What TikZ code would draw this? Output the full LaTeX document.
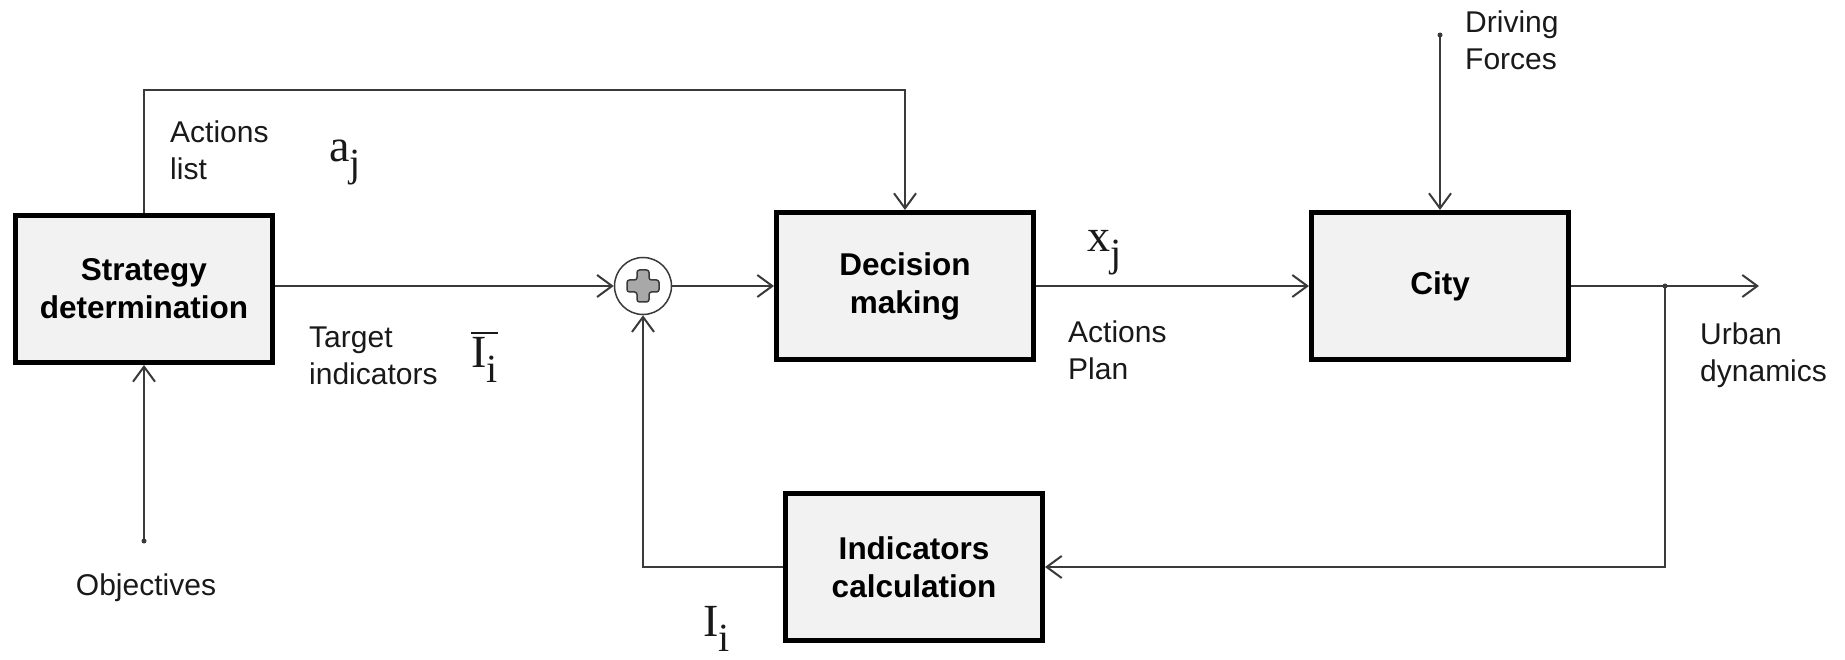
\documentclass[tikz,border=0pt]{standalone}
\usepackage{fontspec}
\setmainfont{Liberation Sans}
\newfontfamily\symserif{Liberation Serif}
\usetikzlibrary{arrows.meta}
\definecolor{boxfill}{HTML}{F2F2F2}
\definecolor{wire}{HTML}{3A3A3A}
\definecolor{crossfill}{HTML}{A8A8A8}

% variable with a lowered subscript, set in a serif face
\newcommand{\varsym}[2]{{\symserif\fontsize{46}{46}\selectfont #1\raisebox{-15pt}{\fontsize{40}{40}\selectfont #2}}}

\begin{document}
\begin{tikzpicture}[x=1pt,y=-1pt,
  block/.style={draw=black, line width=5pt, fill=boxfill, minimum width=257pt, minimum height=147pt,
    align=center, font=\fontsize{31.5}{38}\selectfont\bfseries, inner sep=0pt},
  wireline/.style={draw=wire, line width=2pt},
  flow/.style={wireline, -{Straight Barb[length=15pt,width=22pt]}},
  lbl/.style={anchor=west, align=left, inner sep=0pt, font=\fontsize{30}{37}\selectfont, text=black!90},
  sym/.style={anchor=base west, inner sep=0pt, text=black!90},
  joint/.style={circle, fill=wire, inner sep=0pt, minimum size=5pt},
]
\path[use as bounding box] (0,0) rectangle (1845,660);

% blocks
\node[block] (strat) at (144,289) {Strategy\\determination};
\node[block] (dec)   at (905,286) {Decision\\making};
\node[block] (city)  at (1440,286) {City};
\node[block] (ind)   at (914,567) {Indicators\\calculation};

% summing junction
\node[circle, draw=wire, line width=1.5pt, fill=white, minimum size=57pt, inner sep=0pt] (sum) at (643,286) {};
\draw[wire, line width=1.5pt, fill=crossfill, rounded corners=2.5pt, shift={(sum.center)}]
  (-6,-16) -- (6,-16) -- (6,-6) -- (16,-6) -- (16,6) -- (6,6) -- (6,16) -- (-6,16)
  -- (-6,6) -- (-16,6) -- (-16,-6) -- (-6,-6) -- cycle;

% end points and branch point
\node[joint] (objpt) at (144,541) {};
\node[joint] (dfpt)  at (1440,35) {};
\node[joint] (jn)    at (1665,286) {};
\coordinate (outend) at (1759,286);
\coordinate (topy) at (0,90);

% connectors
\draw[flow] (strat.north) |- (dec.north |- topy) -- (dec.north);
\draw[flow] (strat.east |- sum.west) -- (sum.west);
\draw[flow] (sum.east) -- (dec.west);
\draw[flow] (dec.east) -- (city.west);
\draw[flow] (dfpt.center) -- (city.north);
\draw[flow] (city.east) -- (outend);
\draw[flow] (jn.center) |- (ind.east);
\draw[flow] (ind.west) -| (sum.south);
\draw[flow] (objpt.center) -- (strat.south);

% labels
\node[lbl] (alist) at (170,150) {Actions\\list};
\node[sym] (aj) at (329,162) {\varsym{a}{j}};
\node[lbl] (tind) at (309,356) {Target\\indicators};
\node[sym] (ibar) at (471,367) {\varsym{I}{i}};
\draw[black!90, line width=2pt] ([yshift=4pt]ibar.north west) -- ([yshift=4pt]ibar.north east);
\node[sym] (xj) at (1087,252) {\varsym{x}{j}};
\node[lbl] (aplan) at (1068,350) {Actions\\Plan};
\node[lbl] (dforce) at (1465,40) {Driving\\Forces};
\node[lbl] (urban) at (1700,355) {Urban\\dynamics};
\node[sym] (ii) at (703,636) {\varsym{I}{i}};
\node[lbl, anchor=center] (objt) at (146,588) {Objectives};
\end{tikzpicture}
\end{document}
